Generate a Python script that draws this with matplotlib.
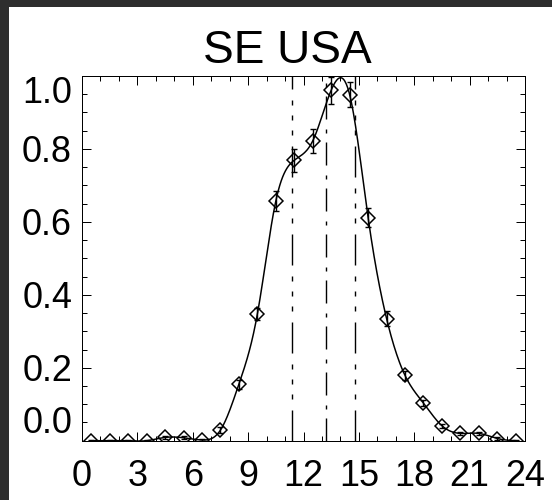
import numpy as np
import matplotlib
matplotlib.use("Agg")
import matplotlib.pyplot as plt
from matplotlib.patches import Rectangle
from matplotlib.ticker import MultipleLocator

# diurnal cycle, normalised (local hour of day)
hours = [0.5, 1.5, 2.5, 3.5, 4.5, 5.5, 6.5, 7.5, 8.5, 9.5, 10.5, 11.5,
         12.5, 13.5, 14.5, 15.5, 16.5, 17.5, 18.5, 19.5, 20.5, 21.5, 22.5, 23.5]
frac = [0.0, 0.0, 0.0, 0.0, 0.009, 0.008, 0.002, 0.029, 0.155, 0.347, 0.657, 0.769,
        0.822, 0.961, 0.949, 0.612, 0.335, 0.179, 0.103, 0.041, 0.020, 0.020, 0.006, 0.0]
err = [0.002, 0.002, 0.002, 0.002, 0.004, 0.004, 0.003, 0.008, 0.012, 0.017, 0.027, 0.032,
       0.033, 0.037, 0.034, 0.025, 0.020, 0.012, 0.009, 0.006, 0.004, 0.004, 0.003, 0.002]
vlines = [11.38, 13.22, 14.79]

xticks = [0, 3, 6, 9, 12, 15, 18, 21, 24]
yticks = [0.0, 0.2, 0.4, 0.6, 0.8, 1.0]


def natural_spline(x, y, xs):
    x = np.asarray(x, float)
    y = np.asarray(y, float)
    n = len(x)
    h = np.diff(x)
    A = np.zeros((n, n))
    rhs = np.zeros(n)
    A[0, 0] = 1
    A[-1, -1] = 1
    for i in range(1, n - 1):
        A[i, i - 1] = h[i - 1]
        A[i, i] = 2 * (h[i - 1] + h[i])
        A[i, i + 1] = h[i]
        rhs[i] = 6 * ((y[i + 1] - y[i]) / h[i] - (y[i] - y[i - 1]) / h[i - 1])
    M = np.linalg.solve(A, rhs)
    i = np.clip(np.searchsorted(x, xs) - 1, 0, n - 2)
    hi = h[i]
    a = x[i + 1] - xs
    b = xs - x[i]
    return (M[i] * a**3 / (6 * hi) + M[i + 1] * b**3 / (6 * hi)
            + (y[i] / hi - M[i] * hi / 6) * a + (y[i + 1] / hi - M[i + 1] * hi / 6) * b)


plt.rcParams["font.family"] = ["Liberation Sans", "DejaVu Sans"]
plt.rcParams["lines.scale_dashes"] = False

W, H = 552, 500
fig = plt.figure(figsize=(W / 72, H / 72), dpi=72, facecolor="white")

# dark screenshot border on left and top
fig.add_artist(Rectangle((0, 0), 8 / W, 1, transform=fig.transFigure, color="#2e2e2e", zorder=10))
fig.add_artist(Rectangle((0, 1 - 6 / H), 1, 6 / H, transform=fig.transFigure, color="#2e2e2e", zorder=10))

ax = fig.add_axes([82 / W, (H - 440.7) / H, 443 / W, 364.7 / H])

xs = np.linspace(hours[0], hours[-1], 600)
ax.plot(xs, natural_spline(hours, frac, xs), color="black", lw=1.5)

ax.errorbar(hours, frac, yerr=err, fmt="none", ecolor="black", elinewidth=1.4, capsize=3, capthick=1.4)
ax.plot(hours, frac, ls="none", marker="D", ms=9.5, mfc="none", mec="black", mew=1.5)

styles = [(0, (31, 11, 5, 10, 5, 10, 5, 11)),
          (0, (23, 9, 4, 10)),
          (0, (31, 11, 5, 10, 5, 10, 5, 11))]
for xv, st in zip(vlines, styles):
    ax.plot([xv, xv], [0, 1], color="black", lw=1.4, ls=st)

ax.set_xlim(0, 24)
ax.set_ylim(0, 1.0)
ax.set_xticks(xticks)
ax.set_xticklabels([str(t) for t in xticks])
ax.set_yticks(yticks)
ax.set_yticklabels(["%.1f" % t for t in yticks])
ax.xaxis.set_minor_locator(MultipleLocator(1))
ax.yaxis.set_minor_locator(MultipleLocator(0.05))
ax.tick_params(which="both", direction="in", top=True, right=True, color="black", width=1)
ax.tick_params(which="major", length=9)
ax.tick_params(which="minor", length=5)
ax.tick_params(axis="x", which="major", labelsize=36, pad=18)
ax.tick_params(axis="y", which="major", labelsize=36, pad=10)
for sp in ax.spines.values():
    sp.set_linewidth(1)

yt = ax.yaxis.get_major_ticks()
yt[0].label1.set_va("bottom")
yt[-1].label1.set_va("top")

fig.text(287 / W, (H - 63) / H, "SE USA", fontsize=46, ha="center", va="baseline")

fig.savefig("out.png", dpi=72)
